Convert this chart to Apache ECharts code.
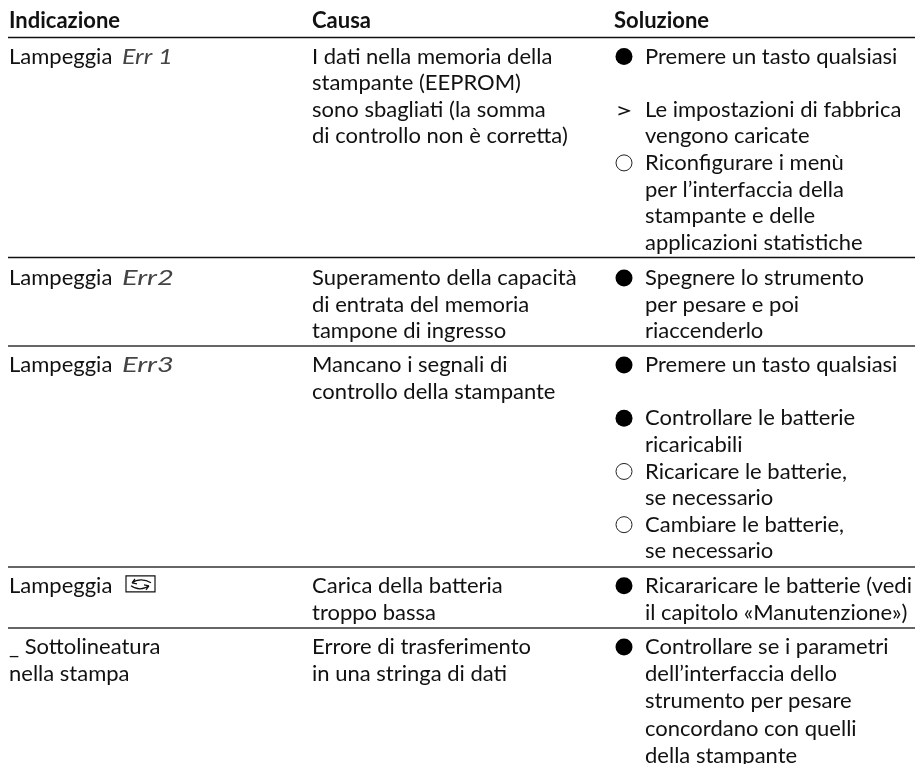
<!DOCTYPE html>
<html>
<head>
<meta charset="utf-8">
<title>Indicazione</title>
<script src="https://cdn.jsdelivr.net/npm/echarts@6/dist/echarts.min.js"></script>
<style>
  html, body { margin: 0; padding: 0; background: #fff; }
  #chart { width: 915px; height: 764px; }
</style>
</head>
<body>
<div id="chart"></div>
<script>
// header labels, one per column
const headers = ['Indicazione', 'Causa', 'Soluzione'];
const headerLine = -1.335;
// first text line of every table row, counted in text lines
const rowStart = [0, 8.33, 11.6, 19.9, 22.2];
// horizontal rules, counted in text lines
const ruleLines = [-0.733, 7.575, 10.88, 19.19, 21.49];
// [row, line inside the row, text]
const indicazione = [
  [0, 0, 'Lampeggia'], [0, 0, 'Err 1', 'lcd'],
  [1, 0, 'Lampeggia'], [1, 0, 'Err2', 'lcd'],
  [2, 0, 'Lampeggia'], [2, 0, 'Err3', 'lcd'],
  [3, 0, 'Lampeggia'],
  [4, 0, '_ Sottolineatura'], [4, 1.02, 'nella stampa']
];
const causa = [
  [0, 0, 'I dati nella memoria della'], [0, 1, 'stampante (EEPROM)'],
  [0, 2, 'sono sbagliati (la somma'], [0, 3, 'di controllo non è corretta)'],
  [1, 0, 'Superamento della capacità'], [1, 1, 'di entrata del memoria'], [1, 2, 'tampone di ingresso'],
  [2, 0, 'Mancano i segnali di'], [2, 1, 'controllo della stampante'],
  [3, 0, 'Carica della batteria'], [3, 1.02, 'troppo bassa'],
  [4, 0, 'Errore di trasferimento'], [4, 1.02, 'in una stringa di dati']
];
const soluzione = [
  [0, 0, 'Premere un tasto qualsiasi'],
  [0, 2, 'Le impostazioni di fabbrica'], [0, 3, 'vengono caricate'],
  [0, 4, 'Riconfigurare i menù'], [0, 5, 'per l’interfaccia della'],
  [0, 6, 'stampante e delle'], [0, 7, 'applicazioni statistiche'],
  [1, 0, 'Spegnere lo strumento'], [1, 1, 'per pesare e poi'], [1, 2, 'riaccenderlo'],
  [2, 0, 'Premere un tasto qualsiasi'],
  [2, 2, 'Controllare le batterie'], [2, 3, 'ricaricabili'],
  [2, 4, 'Ricaricare le batterie,'], [2, 5, 'se necessario'],
  [2, 6, 'Cambiare le batterie,'], [2, 7, 'se necessario'],
  [3, 0, 'Ricararicare le batterie (vedi'], [3, 1.02, 'il capitolo «Manutenzione»)'],
  [4, 0, 'Controllare se i parametri'], [4, 1.02, 'dell’interfaccia dello'],
  [4, 2.04, 'strumento per pesare'], [4, 3.07, 'concordano con quelli'], [4, 4.1, 'della stampante']
];
// [row, line inside the row]
const filledMarks = [[0, 0], [1, 0], [2, 0], [2, 2], [3, 0], [4, 0]];
const openMarks = [[0, 4], [2, 4], [2, 6]];
const arrowMarks = [[0, 2]];
const batteryMarks = [[3, 0]];

const linePitch = 26.6;
const firstLineY = 56.5;
const colX = [9, 312, 645];
const soluzioneHeadX = 614;
const lcdX = 122;
const markX = 624;
const textFont = '22px Lato';
const headerFont = 'bold 22px Lato';
const lcdFont = 'italic 22px Lato';
// the display codes are set wide like the segment digits in the manual
const lcdStretch = { 'Err 1': 1.14, 'Err2': 1.32, 'Err3': 1.32 };

const lineOf = (row, line) => rowStart[row] + line;

function textSeries(name, cells, x) {
  return {
    name: name,
    type: 'custom',
    coordinateSystem: 'cartesian2d',
    data: cells.map(c => [x, lineOf(c[0], c[1])]),
    renderItem: function (params, api) {
      const cell = cells[params.dataIndex];
      const lcd = cell[3] === 'lcd';
      const p = api.coord([lcd ? lcdX : api.value(0), api.value(1)]);
      return {
        type: 'text',
        x: p[0],
        y: p[1],
        scaleX: lcd ? lcdStretch[cell[2]] : 1,
        style: {
          text: cell[2],
          x: 0,
          y: 0,
          font: lcd ? lcdFont : textFont,
          fill: lcd ? '#444' : '#111',
          align: 'left',
          verticalAlign: 'middle'
        }
      };
    }
  };
}

const batteryPath = 'M0 0H29V16H0Z M6 7C11 3 19 3 25 7 M6 7L9 3 M6 7L11 8 M23 10C18 14 10 14 5 10 M23 10L20 14 M23 10L18 9';

const option = {
  animation: false,
  grid: { left: 0, right: 0, top: 0, bottom: 0 },
  xAxis: { type: 'value', show: false, min: 0, max: 915 },
  yAxis: {
    type: 'value',
    show: false,
    inverse: true,
    min: -firstLineY / linePitch,
    max: (764 - firstLineY) / linePitch
  },
  series: [
    {
      name: 'Regole',
      type: 'custom',
      data: ruleLines.map((l, i) => [l, i]),
      renderItem: function (params, api) {
        const a = api.coord([8, api.value(0)]);
        const b = api.coord([915, api.value(0)]);
        // the two upper rules land on one pixel row in the scan, the others on two
        const dark = api.value(1) < 2;
        const y = dark ? Math.floor(a[1]) + 0.5 : Math.round(a[1]);
        return {
          type: 'line',
          shape: { x1: a[0], y1: y, x2: b[0], y2: y },
          style: { stroke: dark ? '#111' : '#666', lineWidth: dark ? 1.5 : 2 }
        };
      }
    },
    {
      name: 'Intestazione',
      type: 'custom',
      data: headers.map((h, i) => [i, headerLine]),
      renderItem: function (params, api) {
        const col = api.value(0);
        const p = api.coord([col === 2 ? soluzioneHeadX : colX[col], api.value(1)]);
        return {
          type: 'text',
          style: { text: headers[col], x: p[0], y: p[1], font: headerFont, fill: '#111', align: 'left', verticalAlign: 'middle' }
        };
      }
    },
    textSeries('Indicazione', indicazione, colX[0]),
    textSeries('Causa', causa, colX[1]),
    textSeries('Soluzione', soluzione, colX[2]),
    {
      name: 'Passo',
      type: 'scatter',
      symbol: 'circle',
      symbolSize: 17,
      itemStyle: { color: '#000', opacity: 1 },
      data: filledMarks.map(m => [markX, lineOf(m[0], m[1])])
    },
    {
      name: 'Opzione',
      type: 'scatter',
      symbol: 'circle',
      symbolSize: 16,
      itemStyle: { color: '#fff', borderColor: '#222', borderWidth: 1, opacity: 1 },
      data: openMarks.map(m => [markX, lineOf(m[0], m[1])])
    },
    {
      name: 'Risultato',
      type: 'custom',
      data: arrowMarks.map(m => [615, lineOf(m[0], m[1])]),
      renderItem: function (params, api) {
        const p = api.coord([api.value(0), api.value(1)]);
        return {
          type: 'text',
          x: p[0],
          y: p[1] + 1,
          scaleX: 1.4,
          style: { text: '>', x: 0, y: 0, font: textFont, fill: '#111', align: 'left', verticalAlign: 'middle' }
        };
      }
    },
    {
      name: 'Batteria',
      type: 'custom',
      data: batteryMarks.map(m => [126, lineOf(m[0], m[1])]),
      renderItem: function (params, api) {
        const p = api.coord([api.value(0), api.value(1)]);
        return {
          type: 'path',
          shape: { pathData: batteryPath, x: p[0], y: p[1] - 10, width: 29, height: 16 },
          style: { fill: 'none', stroke: '#111', lineWidth: 1.2 }
        };
      }
    }
  ]
};

const myChart = echarts.init(document.getElementById('chart'), null, { renderer: 'canvas' });
myChart.setOption(option);
</script>
</body>
</html>
